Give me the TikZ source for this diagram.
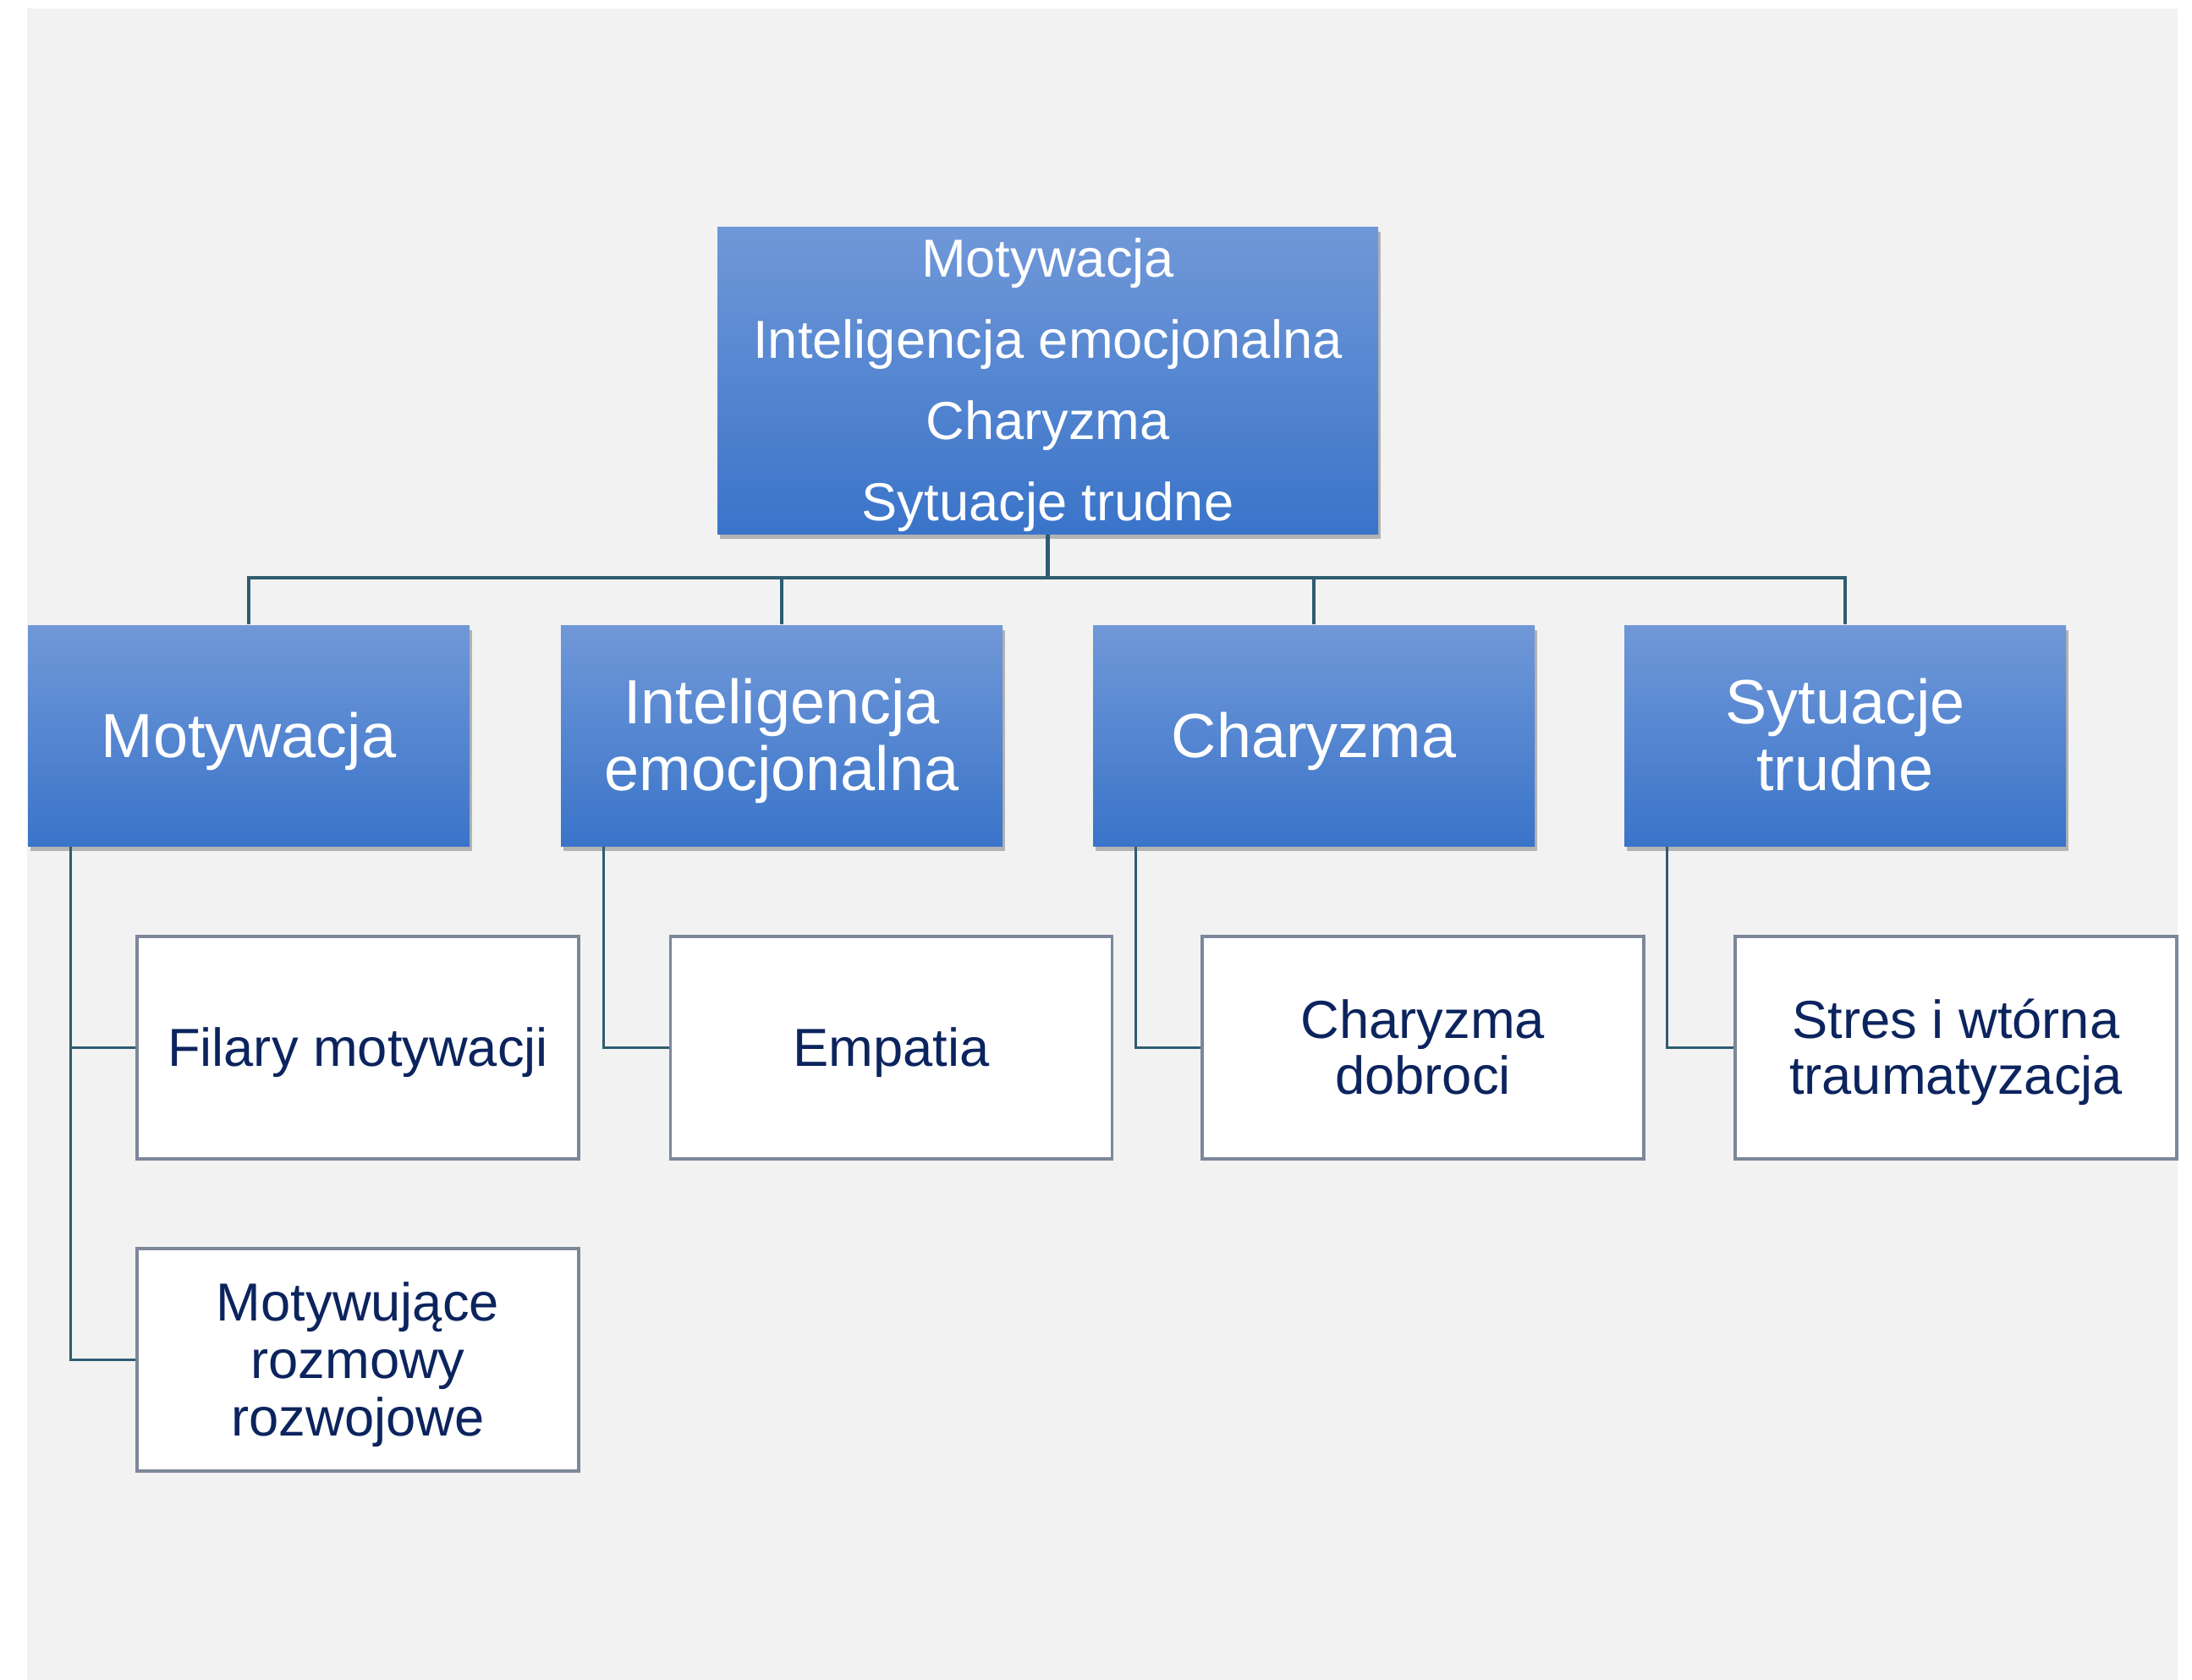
\documentclass[tikz,border=0pt]{standalone}
\usepackage{fontspec}
\setmainfont{Liberation Sans}
\usetikzlibrary{shadows}
\definecolor{bgray}{HTML}{F2F2F2}
\definecolor{bluetop}{HTML}{7098D8}
\definecolor{bluebot}{HTML}{3A74C9}
\definecolor{navy}{HTML}{0C245E}
\definecolor{boxline}{HTML}{7D879A}
\definecolor{linkcol}{HTML}{2F5C70}
% line struts with the font's ascent and descent
\newcommand{\tstrut}{\rule{0pt}{0.905em}}
\newcommand{\bstrut}{\rule[-0.212em]{0pt}{0pt}}

\begin{document}
\begin{tikzpicture}[
  bluebox/.style={draw=none,top color=bluetop,bottom color=bluebot,text=white,align=center,
    drop shadow={opacity=0.55,shadow xshift=0.03cm,shadow yshift=-0.06cm},
    minimum width=5.22cm,minimum height=2.61cm,inner sep=0pt},
  whitebox/.style={draw=boxline,line width=1pt,fill=white,text=navy,align=center,
    minimum width=5.22cm,minimum height=2.63cm,inner sep=0pt,
    font=\fontsize{18}{19}\selectfont},
  link/.style={draw=linkcol,line width=0.9pt}]
\useasboundingbox (0,0) rectangle (25.91,-19.86);
\fill[bgray] (0.32,-0.10) rectangle (25.74,-19.86);

% top
\node[bluebox,minimum width=7.81cm,minimum height=3.63cm,font=\fontsize{18}{27.3}\selectfont] (top) at (12.385,-4.495)
  {\tstrut Motywacja\\ Inteligencja emocjonalna\\ Charyzma\\ Sytuacje trudne\bstrut};
\coordinate (bus) at (12.385,-6.83);

% second row
\node[bluebox,font=\fontsize{21}{22.5}\selectfont] (mot) at (2.94,-8.695) {\tstrut Motywacja\bstrut};
\node[bluebox,font=\fontsize{21}{22.5}\selectfont] (inte) at (9.24,-8.695) {\tstrut Inteligencja\\ emocjonalna\bstrut};
\node[bluebox,font=\fontsize{21}{22.5}\selectfont] (char) at (15.53,-8.695) {\tstrut Charyzma\bstrut};
\node[bluebox,font=\fontsize{21}{22.5}\selectfont] (syt) at (21.81,-8.695) {\tstrut Sytuacje\\ trudne\bstrut};

% third row
\node[whitebox] (fil) at (4.23,-12.385) {\tstrut Filary motywacji\bstrut};
\node[whitebox] (emp) at (10.535,-12.385) {\tstrut Empatia\bstrut};
\node[whitebox] (dob) at (16.82,-12.385) {\tstrut Charyzma\\ dobroci\bstrut};
\node[whitebox] (stres) at (23.12,-12.385) {\tstrut Stres i wtórna\\ traumatyzacja\bstrut};
\node[whitebox,font=\fontsize{18}{19.3}\selectfont] (roz) at (4.23,-16.075) {\tstrut Motywujące\\ rozmowy\\ rozwojowe\bstrut};

% links
\draw[link,line width=1.3pt] (top.south) -- (bus);
\draw[link] (bus) -| (mot.north);
\draw[link] (bus) -| (inte.north);
\draw[link] (bus) -| (char.north);
\draw[link] (bus) -| (syt.north);
\draw[link] ([xshift=0.51cm]mot.south west) |- (fil.west);
\draw[link] ([xshift=0.51cm]mot.south west) |- (roz.west);
\draw[link] ([xshift=0.51cm]inte.south west) |- (emp.west);
\draw[link] ([xshift=0.51cm]char.south west) |- (dob.west);
\draw[link] ([xshift=0.51cm]syt.south west) |- (stres.west);
\end{tikzpicture}
\end{document}
